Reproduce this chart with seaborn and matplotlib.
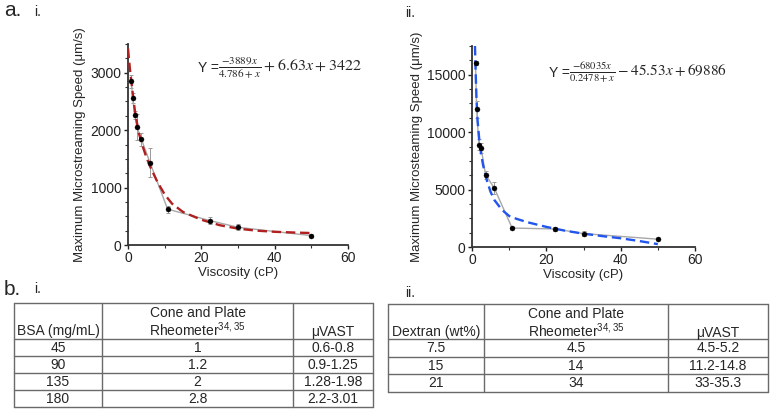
import numpy as np
import pandas as pd
import matplotlib
matplotlib.use("Agg")
import matplotlib.pyplot as plt
from matplotlib.ticker import MultipleLocator
import seaborn as sns

# measured points (viscosity cP vs max streaming speed um/s)
visc = [0.95, 1.25, 1.85, 2.45, 3.65, 6.0, 10.8, 22.4, 30.0, 50.0]
bsa_speed = [2850, 2555, 2265, 2050, 1840, 1435, 625, 424, 308, 163]
bsa_err = [115, 85, 75, 230, 115, 255, 60, 60, 55, 20]
dex_speed = [16030, 11980, 8910, 8620, 6300, 5130, 1650, 1570, 1168, 680]
dex_err = [150, 750, 500, 400, 350, 500, 100, 150, 250, 100]

# fitted curves
bsa_fit_x = [0, 0.5, 1, 1.5, 2, 3, 4, 5, 6, 8, 10, 12, 15, 20, 25, 30, 35, 40, 45, 50]
bsa_fit_y = [3420, 3080, 2800, 2530, 2280, 1940, 1720, 1530, 1370, 1100, 880, 720, 575, 440, 345, 285, 250, 230, 218, 208]
dex_fit_x = [0.8, 1.0, 1.2, 1.5, 2, 2.5, 3, 4, 5, 6, 8, 10, 12, 15, 20, 25, 30, 35, 40, 45, 50]
dex_fit_y = [17500, 15000, 13000, 11000, 9200, 8000, 7100, 5800, 4800, 4100, 3250, 2700, 2450, 2150, 1750, 1420, 1160, 950, 760, 520, 250]

# tables
bsa_conc = ["45", "90", "135", "180"]
bsa_rheo = ["1", "1.2", "2", "2.8"]
bsa_vast = ["0.6-0.8", "0.9-1.25", "1.28-1.98", "2.2-3.01"]
dex_conc = ["7.5", "15", "21"]
dex_rheo = ["4.5", "14", "34"]
dex_vast = ["4.5-5.2", "11.2-14.8", "33-35.3"]

sns.set_style("ticks")
plt.rcParams['font.family'] = ['Liberation Sans', 'DejaVu Sans']

W, H = 772, 411
fig = plt.figure(figsize=(W / 100, H / 100), dpi=100)


def px_axes(x0, y0, x1, y1):
    return fig.add_axes([x0 / W, 1 - y1 / H, (x1 - x0) / W, (y1 - y0) / H])


def style_axes(ax, ymax, ymajor, yminor):
    ax.set_xlim(0, 60)
    ax.set_ylim(0, ymax)
    ax.xaxis.set_major_locator(MultipleLocator(20))
    ax.xaxis.set_minor_locator(MultipleLocator(10))
    ax.yaxis.set_major_locator(MultipleLocator(ymajor))
    ax.yaxis.set_minor_locator(MultipleLocator(yminor))
    ax.set_yticks([t for t in np.arange(0, ymax + 1, ymajor) if t < ymax])
    for s in ["top", "right"]:
        ax.spines[s].set_visible(False)
    for s in ["left", "bottom"]:
        ax.spines[s].set_linewidth(1.3)
        ax.spines[s].set_color("#333333")
    ax.tick_params(which="major", direction="out", length=3, width=1, pad=1.5,
                   labelsize=10, colors="#222222")
    ax.tick_params(which="minor", direction="out", length=2, width=0.8, colors="#333333")
    ax.set_xlabel("Viscosity (cP)", fontsize=9.5, labelpad=1)
    ax.set_facecolor("none")


def draw_panel(ax, speed, err, fit_x, fit_y, fit_color):
    ax.errorbar(visc, speed, yerr=err, fmt="none", ecolor="#9a9a9a",
                elinewidth=0.7, capsize=1.6, capthick=0.7, zorder=2)
    sns.lineplot(x=visc, y=speed, color="#a8a8a8", lw=1.0, ax=ax, zorder=2)
    sns.scatterplot(x=visc, y=speed, color="black", s=13, edgecolor="black",
                    linewidth=0.3, ax=ax, zorder=4)
    sns.lineplot(x=fit_x, y=fit_y, color=fit_color, lw=1.7, ax=ax, zorder=3)
    ax.lines[-1].set_dashes([4, 2])


ax1 = px_axes(128, 44, 348, 245)
draw_panel(ax1, bsa_speed, bsa_err, bsa_fit_x, bsa_fit_y, "#b02020")
style_axes(ax1, 3500, 1000, 250)
ax1.set_ylabel("Maximum Microstreaming Speed (μm/s)", fontsize=9.5, labelpad=3)

ax2 = px_axes(472, 46, 695, 247)
draw_panel(ax2, dex_speed, dex_err, dex_fit_x, dex_fit_y, "#2255ee")
style_axes(ax2, 17500, 5000, 1250)
ax2.set_ylabel("Maximum Microsteaming Speed (μm/s)", fontsize=9.5, labelpad=3)

# overlay in pixel coordinates for labels and tables
ov = fig.add_axes([0, 0, 1, 1], zorder=5)
ov.set_xlim(0, W)
ov.set_ylim(H, 0)
ov.axis("off")

ov.text(198, 68, "Y =", fontsize=10, va="center", ha="left")
ov.text(218, 68, r"$\frac{-3889x}{4.786+x}\:+\:6.63x\:+\:3422$", fontsize=11.5,
        math_fontfamily="stix", va="center", ha="left")
ov.text(549, 73, "Y =", fontsize=10, va="center", ha="left")
ov.text(569, 73, r"$\frac{-68035x}{0.2478+x}\:-\:45.53x\:+\:69886$", fontsize=11,
        math_fontfamily="stix", va="center", ha="left")

ov.text(4, 11, "a.", fontsize=15, va="center")
ov.text(34, 12, "i.", fontsize=10, va="center")
ov.text(405, 13, "ii.", fontsize=10, va="center")
ov.text(4, 289, "b.", fontsize=15, va="center")
ov.text(34, 289, "i.", fontsize=10, va="center")
ov.text(405, 293, "ii.", fontsize=10, va="center")


def draw_table(xs, ys, first_head, col1, col2, col3):
    lc = "#6a6a6a"
    for x in xs:
        ov.plot([x, x], [ys[0], ys[-1]], color=lc, lw=1)
    for y in ys:
        ov.plot([xs[0], xs[-1]], [y, y], color=lc, lw=1)
    cx = [(xs[i] + xs[i + 1]) / 2 for i in range(3)]
    ov.text(cx[0], ys[0] + 28, first_head, ha="center", va="center", fontsize=10)
    ov.text(cx[1], ys[0] + 10, "Cone and Plate", ha="center", va="center", fontsize=10)
    ov.text(cx[1], ys[0] + 27, r"Rheometer$^{\mathregular{34,35}}$", ha="center",
            va="center", fontsize=10)
    ov.text(cx[2], ys[0] + 29, "μVAST", ha="center", va="center", fontsize=10)
    for i in range(len(col1)):
        yc = (ys[i + 1] + ys[i + 2]) / 2
        for c, vals in zip(cx, (col1, col2, col3)):
            ov.text(c, yc, vals[i], ha="center", va="center", fontsize=10)


draw_table([14, 102, 293, 373], [303, 339, 356, 373, 390, 407],
           "BSA (mg/mL)", bsa_conc, bsa_rheo, bsa_vast)
draw_table([388, 484, 668, 768], [304, 339, 357, 374, 392],
           "Dextran (wt%)", dex_conc, dex_rheo, dex_vast)

fig.savefig("out.png", dpi=100)
